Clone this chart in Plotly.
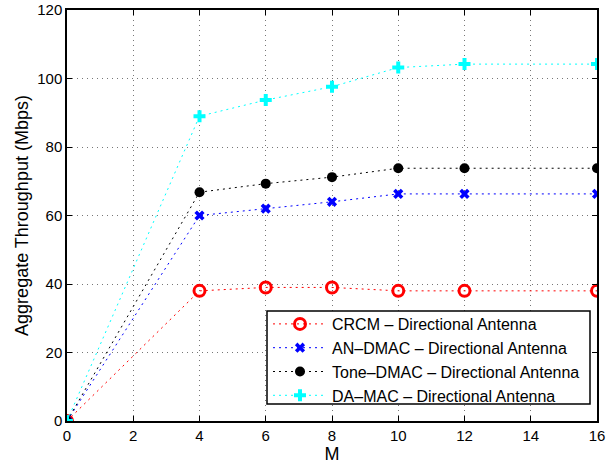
import plotly.graph_objects as go

M = [0, 4, 6, 8, 10, 12, 16]
crcm = [0, 38, 39, 39, 38, 38, 38]
an_dmac = [0, 60, 62, 64, 66.3, 66.3, 66.3]
tone_dmac = [0, 66.8, 69.3, 71.2, 73.8, 73.8, 73.8]
da_mac = [0, 89, 93.7, 97.6, 103.2, 104.2, 104.2]

names = ["CRCM \u2013 Directional Antenna", "AN\u2013DMAC \u2013 Directional Antenna",
         "Tone\u2013DMAC \u2013 Directional Antenna", "DA\u2013MAC \u2013 Directional Antenna"]
x_ticks = [0, 2, 4, 6, 8, 10, 12, 14, 16]
y_ticks = [0, 20, 40, 60, 80, 100, 120]

ldash = "2px,4px"
fig = go.Figure()
fig.add_trace(go.Scatter(x=M, y=crcm, name=names[0], mode="lines+markers",
                         line=dict(color="red", dash=ldash, width=1),
                         marker=dict(symbol="circle-open", size=11, color="red", line=dict(width=3))))
fig.add_trace(go.Scatter(x=M, y=an_dmac, name=names[1], mode="lines+markers",
                         line=dict(color="blue", dash=ldash, width=1),
                         marker=dict(symbol="x", size=9, color="blue", line=dict(width=0))))
fig.add_trace(go.Scatter(x=M, y=tone_dmac, name=names[2], mode="lines+markers",
                         line=dict(color="black", dash=ldash, width=1),
                         marker=dict(symbol="circle", size=10, color="black")))
fig.add_trace(go.Scatter(x=M, y=da_mac, name=names[3], mode="lines+markers",
                         line=dict(color="cyan", dash=ldash, width=1),
                         marker=dict(symbol="cross", size=10, color="cyan", line=dict(width=0))))

L, R, T, B = 67, 16, 10, 45
W, H = 613, 466
pw, ph = W - L - R, H - T - B

def px_x(p):
    return (p - L) / pw

def px_y(p):
    return (H - B - p) / ph

font = dict(family="Liberation Sans, Arial, sans-serif", size=15, color="black")
fig.update_layout(
    width=W, height=H,
    margin=dict(l=L, r=R, t=T, b=B),
    paper_bgcolor="white", plot_bgcolor="white",
    font=font,
    legend=dict(x=px_x(268), y=px_y(307), xanchor="left", yanchor="top",
                borderwidth=0, bgcolor="rgba(0,0,0,0)",
                font=dict(family="Liberation Sans, Arial, sans-serif", size=16, color="black"),
                tracegroupgap=0, itemwidth=54),
    showlegend=True,
    shapes=[dict(type="rect", xref="paper", yref="paper", layer="above",
                 x0=px_x(267), x1=px_x(590), y0=px_y(404), y1=px_y(311),
                 fillcolor="white", line=dict(color="black", width=1.5))],
)
fig.update_xaxes(range=[0, 16], tickvals=x_ticks, showgrid=True, gridcolor="#777777",
                 griddash="1px,4px", gridwidth=1, showline=True, linecolor="black", linewidth=1.5,
                 mirror="ticks", ticks="inside", ticklen=5, tickcolor="black", zeroline=False,
                 automargin=False,
                 title=dict(text="M", standoff=2), tickfont=font)
fig.update_yaxes(range=[0, 120], tickvals=y_ticks, showgrid=True, gridcolor="#777777",
                 griddash="1px,4px", gridwidth=1, showline=True, linecolor="black", linewidth=1.5,
                 mirror="ticks", ticks="inside", ticklen=5, tickcolor="black", zeroline=False,
                 automargin=False,
                 title=dict(text="Aggregate Throughput (Mbps)", standoff=4), tickfont=font)

fig.write_html("out.html", config={"displayModeBar": False},
               post_script="document.body.style.margin='0';document.body.style.overflow='hidden';")
